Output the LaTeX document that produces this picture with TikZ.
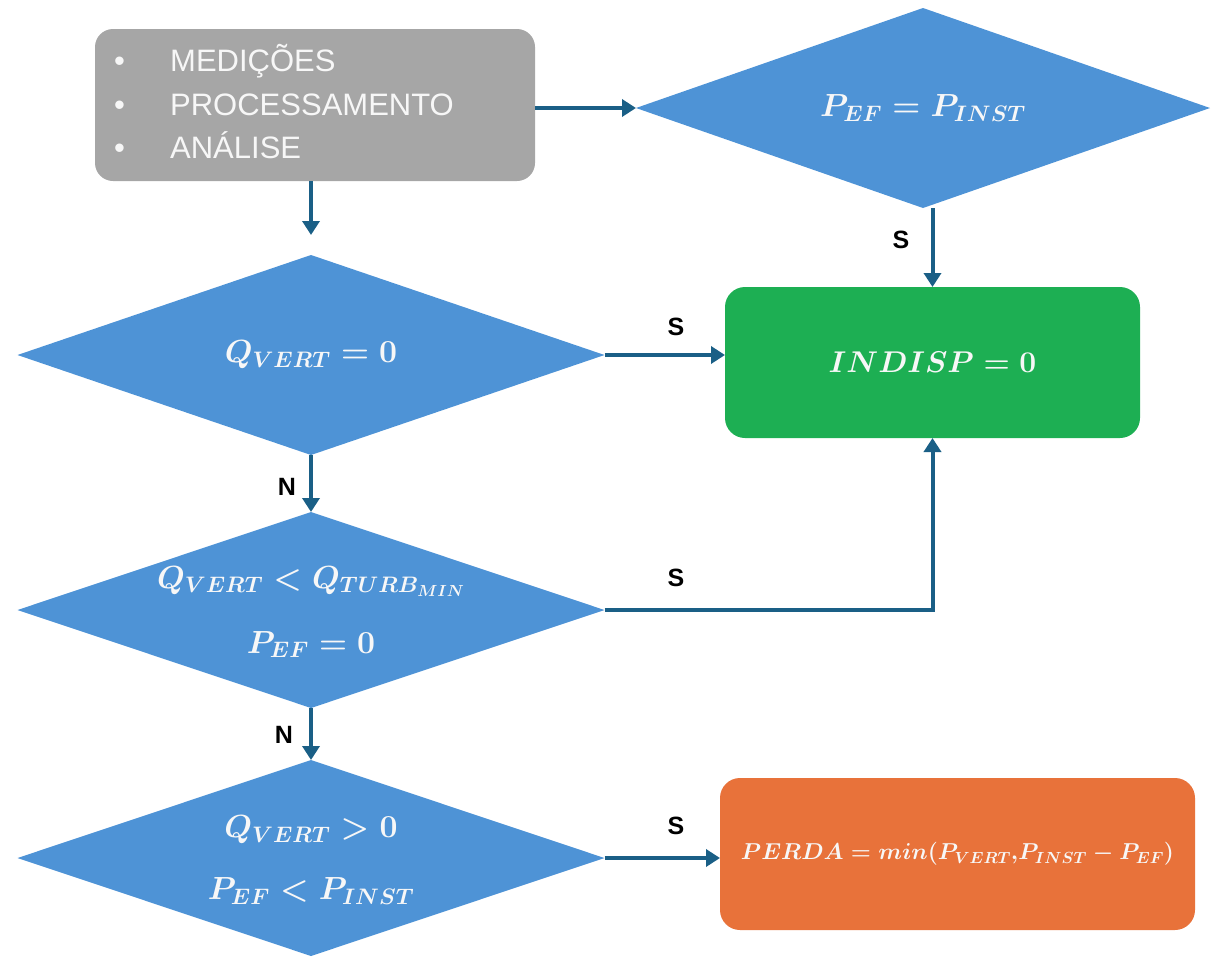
\RequirePackage{fix-cm}
\documentclass[tikz,border=0pt]{standalone}
\usepackage[no-math]{fontspec}
\newfontfamily\arialf{Liberation Sans}
\usetikzlibrary{shapes.geometric,arrows.meta}
\definecolor{dblue}{HTML}{4E93D6}
\definecolor{arrc}{HTML}{1A5F86}
\definecolor{grayb}{HTML}{A6A6A6}
\definecolor{greenb}{HTML}{1DAF53}
\definecolor{orangeb}{HTML}{E8723A}
\definecolor{txt}{HTML}{F7F7F7}
\begin{document}
\begin{tikzpicture}[x=1pt,y=-1pt,
  dia/.style={diamond, fill=dblue, draw=none, inner sep=0pt, outer sep=0pt, aspect=2.9},
  mtext/.style={text=txt, align=center, inner sep=0pt, font=\fontsize{32}{62}\selectfont\boldmath},
  rbox/.style={rectangle, rounded corners=20pt, inner sep=0pt, outer sep=0pt, draw=none},
  arr/.style={draw=arrc, line width=4pt, -{Triangle[length=14pt,width=17pt]}},
  lbl/.style={font=\arialf\bfseries\fontsize{25}{30}\selectfont, text=black, inner sep=0pt}]
\useasboundingbox (0,0) rectangle (1211,959);
% boxes
\node[rbox, fill=grayb, minimum width=440pt, minimum height=152pt, rounded corners=18pt] (src) at (315,105) {};
\node[anchor=west, text=txt, align=left, inner sep=0pt, font=\arialf\fontsize{31}{43.5}\selectfont] (srct) at (114,102)
  {\makebox[56pt][l]{\textbullet}MEDIÇÕES\\\makebox[56pt][l]{\textbullet}PROCESSAMENTO\\\makebox[56pt][l]{\textbullet}ANÁLISE};
\node[rbox, fill=greenb, minimum width=415pt, minimum height=151pt] (g) at (932.5,362.5) {};
\node[mtext, font=\fontsize{30}{40}\selectfont\boldmath] (gt) at (g) {$INDISP = 0$};
\node[rbox, fill=orangeb, minimum width=475pt, minimum height=152pt] (o) at (957.5,854) {};
\node[mtext, font=\fontsize{23}{26}\selectfont\boldmath] (ot) at (o) {$PERDA = min(P_{VERT}{,}P_{INST} - P_{EF})$};
% diamonds
\node[dia, minimum width=574pt, minimum height=200pt] (d1) at (923,108) {};
\node[mtext] (d1t) at (d1) {$P_{EF} = P_{INST}$};
\node[dia, minimum width=587pt, minimum height=200pt] (d2) at (311,355) {};
\node[mtext] (d2t) at (d2) {$Q_{VERT} = 0$};
\node[dia, minimum width=587pt, minimum height=196pt] (d3) at (311,610) {};
\node[mtext, font=\fontsize{32}{65}\selectfont\boldmath] (d3t) at ([yshift=-2pt]d3.center) {$Q_{VERT} < Q_{TURB_{MIN}}$\\$P_{EF} = 0$};
\node[dia, minimum width=587pt, minimum height=196pt] (d4) at (311,858) {};
\node[mtext] (d4t) at ([yshift=-2pt]d4.center) {$Q_{VERT} > 0$\\$P_{EF} < P_{INST}$};
% connectors
\draw[arr] (src.east |- d1.west) -- (d1.west);
\draw[arr, shorten >=20pt] (src.south -| d2.north) -- (d2.north);
\draw[arr] (d1.south -| g.north) -- (g.north);
\draw[arr] (d2.east) -- (d2.east -| g.west);
\draw[arr] (d3.east) -| (g.south);
\draw[arr] (d2.south) -- (d3.north);
\draw[arr] (d3.south) -- (d4.north);
\draw[arr] (d4.east) -- (d4.east -| o.west);
% labels
\node[lbl] (l1) at (901,240) {S};
\node[lbl] (l2) at (676,327) {S};
\node[lbl] (l3) at (287,487) {N};
\node[lbl] (l4) at (676,578) {S};
\node[lbl] (l5) at (284,735) {N};
\node[lbl] (l6) at (676,826) {S};
\end{tikzpicture}
\end{document}
